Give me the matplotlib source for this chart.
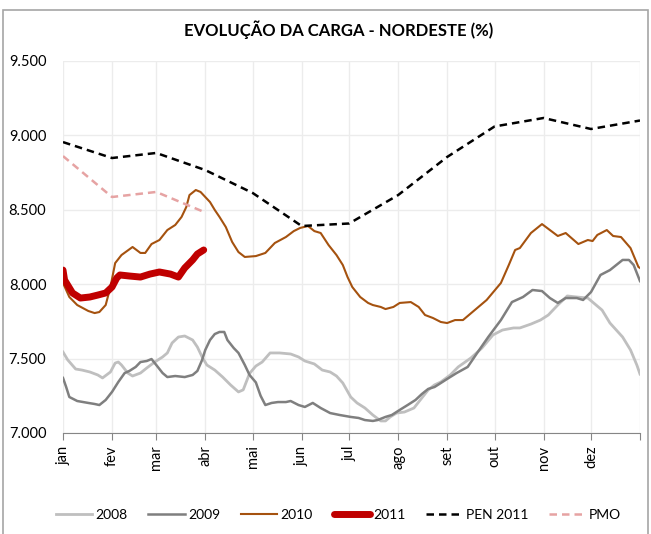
import matplotlib
matplotlib.use("Agg")
import matplotlib.pyplot as plt
from matplotlib.ticker import FuncFormatter
from matplotlib.patches import Rectangle

plt.rcParams['font.family'] = ['Lato', 'DejaVu Sans']

# months (day of year at month start)
month_days = [0, 31, 59, 90, 120, 151, 181, 212, 243, 273, 304, 334, 365]
month_labels = ['jan', 'fev', 'mar', 'abr', 'mai', 'jun', 'jul', 'ago', 'set', 'out', 'nov', 'dez']

# 2008
d2008 = [0, 3, 8, 12, 17, 22, 25, 30, 33, 35, 37, 41, 44, 49, 53, 58, 63, 66, 69, 73, 77, 82, 85, 88,
         91, 96, 101, 106, 111, 114, 118, 122, 126, 131, 137, 144, 149, 153, 159, 164, 169, 173, 177,
         182, 186, 191, 196, 201, 204, 207, 211, 216, 222, 226, 231, 235, 239, 245, 250, 258, 265, 272,
         278, 285, 289, 296, 302, 307, 313, 319, 325, 332, 335, 341, 346, 354, 359, 363, 365]
v2008 = [7544, 7491, 7430, 7423, 7410, 7390, 7370, 7410, 7470, 7477, 7457, 7403, 7383, 7403, 7437, 7477,
         7511, 7538, 7605, 7645, 7652, 7625, 7578, 7511, 7457, 7423, 7376, 7323, 7276, 7290, 7400, 7450,
         7477, 7538, 7538, 7531, 7511, 7484, 7464, 7423, 7410, 7383, 7336, 7242, 7202, 7168, 7121, 7081,
         7081, 7108, 7134, 7141, 7168, 7222, 7289, 7323, 7343, 7390, 7444, 7504, 7571, 7659, 7692, 7706,
         7706, 7732, 7759, 7793, 7860, 7921, 7914, 7907, 7880, 7826, 7739, 7645, 7558, 7457, 7396]

# 2009
d2009 = [0, 2, 4, 9, 16, 20, 23, 27, 31, 35, 39, 42, 46, 49, 53, 56, 59, 63, 66, 71, 77, 82, 85, 88,
         90, 93, 96, 99, 102, 104, 108, 111, 115, 118, 122, 125, 128, 132, 136, 141, 144, 149, 153, 158,
         163, 169, 175, 182, 187, 191, 196, 199, 204, 208, 213, 218, 223, 227, 231, 235, 239, 244, 249,
         256, 262, 269, 277, 284, 291, 297, 303, 308, 313, 318, 325, 329, 334, 340, 346, 354, 358, 361, 365]
v2009 = [7370, 7309, 7242, 7215, 7202, 7195, 7188, 7222, 7276, 7343, 7403, 7417, 7444, 7477, 7484, 7497,
         7457, 7403, 7376, 7383, 7376, 7390, 7417, 7491, 7558, 7625, 7665, 7679, 7679, 7625, 7571, 7538,
         7457, 7390, 7340, 7250, 7188, 7202, 7208, 7208, 7215, 7188, 7175, 7202, 7168, 7134, 7121, 7108,
         7101, 7087, 7081, 7087, 7108, 7121, 7155, 7188, 7222, 7262, 7296, 7309, 7336, 7370, 7403, 7444,
         7538, 7645, 7759, 7880, 7914, 7961, 7954, 7907, 7874, 7907, 7907, 7894, 7947, 8062, 8095, 8163,
         8163, 8129, 8021]

# 2010
d2010 = [0, 4, 9, 16, 20, 23, 27, 30, 33, 37, 44, 49, 52, 56, 61, 66, 71, 75, 78, 80, 84, 87, 90, 93,
         96, 99, 103, 107, 111, 115, 122, 128, 134, 141, 146, 150, 155, 159, 163, 168, 173, 177, 180,
         183, 188, 193, 196, 201, 204, 209, 213, 220, 225, 229, 234, 239, 243, 248, 253, 259, 268, 277,
         282, 286, 289, 296, 303, 313, 318, 326, 332, 335, 338, 344, 348, 353, 359, 364, 365]
v2010 = [8008, 7914, 7860, 7820, 7806, 7813, 7860, 7981, 8142, 8196, 8250, 8210, 8210, 8270, 8297, 8364,
         8398, 8452, 8519, 8599, 8633, 8620, 8586, 8552, 8499, 8452, 8384, 8284, 8216, 8183, 8189, 8210,
         8277, 8317, 8357, 8378, 8391, 8357, 8344, 8263, 8196, 8129, 8048, 7981, 7914, 7874, 7860, 7847,
         7833, 7847, 7874, 7880, 7847, 7793, 7773, 7746, 7739, 7759, 7759, 7813, 7894, 8008, 8129, 8230,
         8243, 8344, 8404, 8324, 8344, 8270, 8297, 8290, 8331, 8364, 8324, 8317, 8243, 8116, 8109]

# 2011
d2011 = [0, 1, 6, 11, 17, 22, 27, 31, 34, 36, 42, 49, 55, 61, 68, 73, 77, 82, 85, 89]
v2011 = [8095, 8028, 7941, 7907, 7914, 7927, 7941, 7981, 8042, 8062, 8055, 8048, 8068, 8082, 8068, 8048,
         8109, 8163, 8203, 8230]

# PEN 2011 (monthly)
pen2011 = [8955, 8848, 8882, 8767, 8613, 8391, 8408, 8599, 8855, 9060, 9117, 9043, 9100]

# PMO
pmo = [8861, 8586, 8620, 8482]

fig = plt.figure(figsize=(6.51, 5.34), dpi=100)
fig.patches.append(Rectangle((3 / 651, -0.01), 645 / 651, 1 - 10 / 534 + 0.01, transform=fig.transFigure,
                             fill=False, edgecolor='#a6a6a6', linewidth=1.2))
ax = fig.add_axes([63 / 651, 1 - 433 / 534, 577 / 651, 372 / 534])

ax.plot(d2008, v2008, color='#bfbfbf', lw=2.0, label='2008')
ax.plot(d2009, v2009, color='#7f7f7f', lw=1.8, label='2009')
ax.plot(d2010, v2010, color='#a5520f', lw=1.5, label='2010')
ax.plot(d2011, v2011, color='#c00000', lw=5, solid_capstyle='round', label='2011')
ax.plot(month_days, pen2011, color='black', lw=1.8, ls=(0, (3, 2)), label='PEN 2011')
ax.plot(month_days[:len(pmo)], pmo, color='#e6a3a3', lw=1.8, ls=(0, (3, 2)), label='PMO')

ax.set_xlim(0, 365)
ax.set_ylim(7000, 9500)
ax.set_yticks([7000, 7500, 8000, 8500, 9000, 9500])
ax.yaxis.set_major_formatter(FuncFormatter(lambda v, p: f"{v:,.0f}".replace(",", ".")))
ax.set_xticks(month_days)
ax.set_xticklabels(month_labels + [''], rotation=90, fontsize=10.5)
ax.tick_params(axis='y', length=0, labelsize=10.5, pad=12)
ax.tick_params(axis='x', length=5, color='#868686', pad=4)
ax.grid(True, color='#ececec', lw=1)
ax.set_axisbelow(True)
for s in ['top', 'right', 'left']:
    ax.spines[s].set_visible(False)
ax.spines['bottom'].set_color('#868686')

fig.text(0.52, 1 - 30 / 534, 'EVOLUÇÃO DA CARGA - NORDESTE (%)', ha='center', va='center',
         fontsize=12, fontweight='bold')

fig.legend(loc='center', bbox_to_anchor=(0.52, 1 - 515 / 534), ncol=6, frameon=False, fontsize=10,
           handlelength=2.6, handletextpad=0.25, columnspacing=1.5)

fig.savefig('out.png', dpi=100)
